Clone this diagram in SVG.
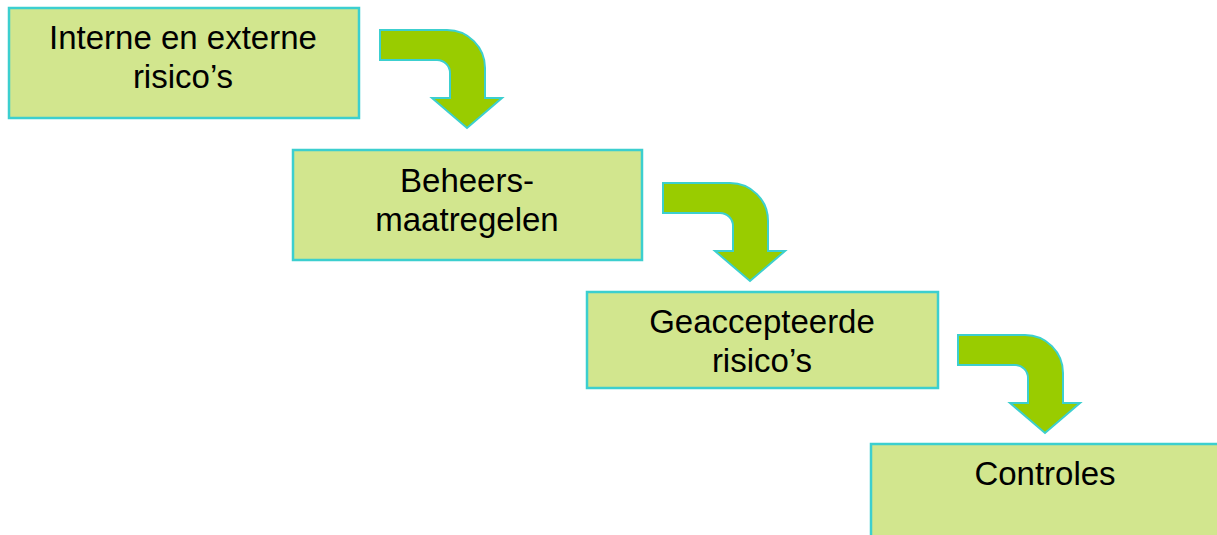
<svg xmlns="http://www.w3.org/2000/svg" width="1217" height="535" viewBox="0 0 1217 535">
<defs>
<style>
.box{fill:#D2E68E;stroke:#3CCFCF;stroke-width:2.5}
.arrow{fill:#99CC00;stroke:#3CCFCF;stroke-width:2;stroke-linejoin:miter}
.lbl{font-family:"Liberation Sans",Arial,sans-serif;font-size:33px;fill:#000;text-anchor:middle}
</style>
<path id="bend" d="M380,30 L447,30 A38,38 0 0 1 485,68 L485,98 L502,98 L467,128 L432,98 L450,98 L450,73 A13,13 0 0 0 437,60 L380,60 Z"/>
</defs>
<rect width="1217" height="535" fill="#fff"/>
<g id="connectors">
<use href="#bend" class="arrow"/>
<use href="#bend" class="arrow" transform="translate(283,153)"/>
<use href="#bend" class="arrow" transform="translate(578,305)"/>
</g>
<g id="node1">
<rect class="box" x="9" y="8" width="350" height="110"/>
<text class="lbl" x="183" y="49">Interne en externe</text>
<text class="lbl" x="183" y="88">risico’s</text>
</g>
<g id="node2">
<rect class="box" x="293" y="150" width="349" height="110"/>
<text class="lbl" x="467" y="192">Beheers-</text>
<text class="lbl" x="467" y="231">maatregelen</text>
</g>
<g id="node3">
<rect class="box" x="587" y="292" width="351" height="96"/>
<text class="lbl" x="762" y="333">Geaccepteerde</text>
<text class="lbl" x="762" y="372">risico’s</text>
</g>
<g id="node4">
<rect class="box" x="871" y="444" width="360" height="110"/>
<text class="lbl" x="1045" y="485">Controles</text>
</g>
</svg>
